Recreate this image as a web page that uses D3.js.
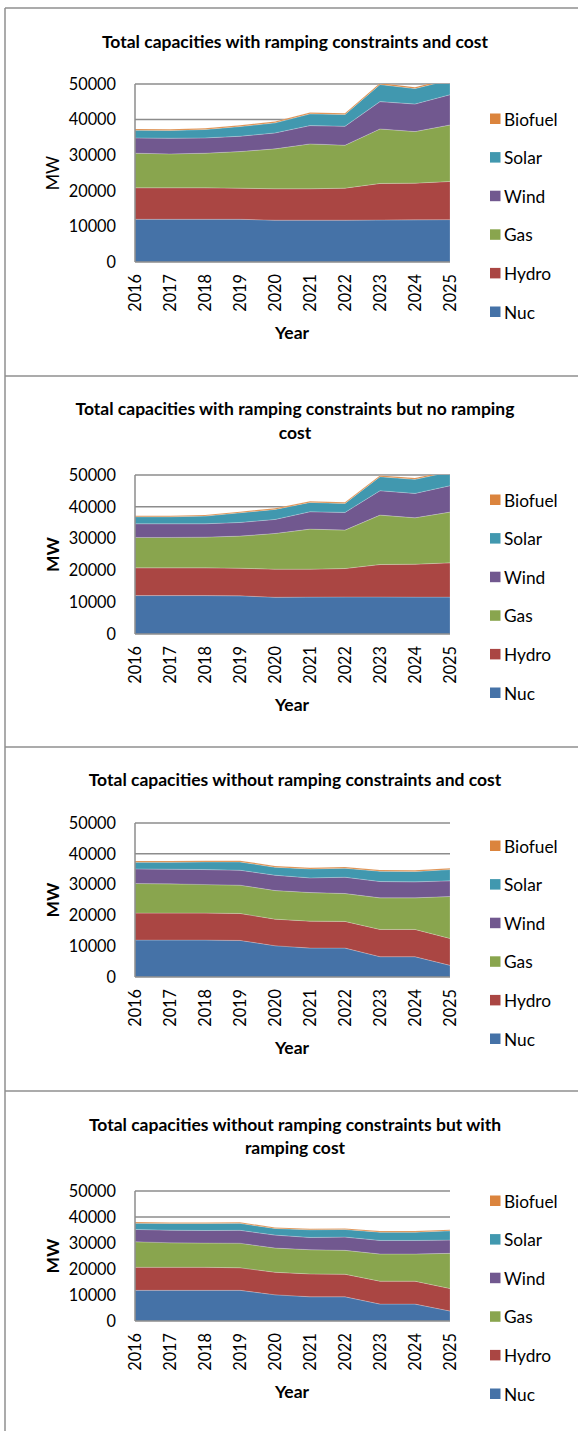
<!DOCTYPE html>
<html>
<head>
<meta charset="utf-8">
<script src="https://cdn.jsdelivr.net/npm/d3@7/dist/d3.min.js"></script>
<style>
body { margin: 0; background: #fff; }
text { font-family: Lato, "Noto Sans", sans-serif; fill: #000; }
</style>
</head>
<body>
<svg id="chart" width="578" height="1431"></svg>
<script>
var years = [2016, 2017, 2018, 2019, 2020, 2021, 2022, 2023, 2024, 2025];
var seriesNames = ["Nuc", "Hydro", "Gas", "Wind", "Solar", "Biofuel"];
var yTicks = [0, 10000, 20000, 30000, 40000, 50000];

var titles = [
    ["Total capacities with ramping constraints and cost"],
    ["Total capacities with ramping constraints but no ramping", "cost"],
    ["Total capacities without ramping constraints and cost"],
    ["Total capacities without ramping constraints but with", "ramping cost"]
];

// panel 1 - with ramping constraints and cost
var p1Nuc     = [12000, 12000, 12000, 12000, 11750, 11750, 11750, 11800, 11850, 11900];
var p1Hydro   = [8840, 8840, 8840, 8750, 8810, 8810, 9000, 10260, 10300, 10720];
var p1Gas     = [9720, 9530, 9720, 10280, 11220, 12620, 12050, 15320, 14490, 15880];
var p1Wind    = [4300, 4400, 4300, 4300, 4480, 5140, 5330, 7670, 7740, 8500];
var p1Solar   = [2170, 2170, 2360, 2730, 2830, 3290, 3300, 4800, 4340, 4150];
var p1Biofuel = [350, 350, 350, 350, 350, 350, 350, 400, 400, 400];

// panel 2 - ramping constraints, no ramping cost
var p2Nuc     = [12080, 12080, 12080, 12000, 11550, 11600, 11650, 11650, 11600, 11600];
var p2Hydro   = [8720, 8720, 8720, 8700, 8830, 8780, 8940, 10200, 10350, 10770];
var p2Gas     = [9560, 9560, 9660, 10080, 11240, 12600, 12080, 15540, 14600, 15970];
var p2Wind    = [4300, 4300, 4200, 4300, 4410, 5470, 5570, 7670, 7670, 8300];
var p2Solar   = [2210, 2210, 2420, 3050, 3150, 2940, 2830, 4410, 4410, 4360];
var p2Biofuel = [350, 350, 350, 350, 350, 350, 350, 400, 400, 400];

// panel 3 - no ramping constraints, no cost
var p3Nuc     = [11990, 11990, 11990, 11880, 10150, 9400, 9400, 6590, 6590, 3780];
var p3Hydro   = [8750, 8750, 8750, 8750, 8640, 8740, 8640, 8850, 8850, 8750];
var p3Gas     = [9610, 9500, 9280, 9180, 9290, 9290, 9070, 10260, 10260, 13610];
var p3Wind    = [4750, 4760, 4860, 4860, 4970, 4750, 5290, 5300, 5190, 5070];
var p3Solar   = [2160, 2260, 2490, 2700, 2590, 2920, 2920, 3340, 3350, 3670];
var p3Biofuel = [400, 400, 400, 400, 400, 400, 400, 400, 400, 400];

// panel 4 - no ramping constraints, with ramping cost
var p4Nuc     = [11800, 11800, 11800, 11800, 10080, 9310, 9310, 6510, 6510, 3830];
var p4Hydro   = [8860, 8860, 8860, 8670, 8670, 8800, 8680, 8800, 8800, 8670];
var p4Gas     = [9820, 9440, 9310, 9440, 9310, 9310, 9180, 10460, 10460, 13520];
var p4Wind    = [4720, 4850, 4850, 4970, 4980, 4720, 5100, 5230, 5230, 5100];
var p4Solar   = [2430, 2550, 2680, 2680, 2550, 2940, 2930, 3180, 3180, 3570];
var p4Biofuel = [400, 400, 400, 400, 400, 400, 400, 400, 400, 400];

var panelData = [
    [p1Nuc, p1Hydro, p1Gas, p1Wind, p1Solar, p1Biofuel],
    [p2Nuc, p2Hydro, p2Gas, p2Wind, p2Solar, p2Biofuel],
    [p3Nuc, p3Hydro, p3Gas, p3Wind, p3Solar, p3Biofuel],
    [p4Nuc, p4Hydro, p4Gas, p4Wind, p4Solar, p4Biofuel]
];

var color = d3.scaleOrdinal()
    .domain(seriesNames)
    .range(["#4572a7", "#aa4643", "#89a54e", "#71588f", "#4198af", "#db843d"]);

// where each panel sits on the page
var layout = [
    {boxTop: 8,    titleY: [41],         plotTop: 84,   plotBottom: 262,  legendTop: 119,  mwBold: false},
    {boxTop: 376,  titleY: [408, 432],   plotTop: 475,  plotBottom: 634,  legendTop: 500,  mwBold: true},
    {boxTop: 747,  titleY: [779],        plotTop: 823,  plotBottom: 977,  legendTop: 846,  mwBold: true},
    {boxTop: 1091, titleY: [1124, 1147], plotTop: 1191, plotBottom: 1321, legendTop: 1201, mwBold: true}
];

var plotLeft = 135, plotRight = 450;
var gridColor = "#8c8c8c";
var fontStack = "Lato, 'Noto Sans', sans-serif";

var svg = d3.select("#chart");

// outer frames
svg.append("line")
    .attr("x1", 5).attr("x2", 5)
    .attr("y1", 8).attr("y2", 1431)
    .attr("stroke", "#8f8f8f").attr("stroke-width", 1.5);

layout.forEach(function(L) {
    svg.append("line")
        .attr("x1", 5).attr("x2", 578)
        .attr("y1", L.boxTop).attr("y2", L.boxTop)
        .attr("stroke", "#8f8f8f").attr("stroke-width", 1.5);
});

var stack = d3.stack().keys(seriesNames);

layout.forEach(function(L, i) {
    var g = svg.append("g");
    var vals = panelData[i];

    var rows = years.map(function(yr, j) {
        var r = {year: yr};
        seriesNames.forEach(function(s, k) { r[s] = vals[k][j]; });
        return r;
    });

    var x = d3.scalePoint().domain(years).range([plotLeft, plotRight]);
    var y = d3.scaleLinear().domain([0, 50000]).range([L.plotBottom, L.plotTop]);

    // title
    titles[i].forEach(function(t, k) {
        g.append("text")
            .attr("x", 295).attr("y", L.titleY[k])
            .attr("text-anchor", "middle")
            .attr("dominant-baseline", "central")
            .style("font-weight", "bold")
            .style("font-size", "17.5px")
            .text(t);
    });

    // gridlines
    g.selectAll(".grid")
        .data(yTicks.filter(function(d) { return d > 0; }))
        .enter().append("line")
        .attr("x1", plotLeft).attr("x2", plotRight)
        .attr("y1", function(d) { return y(d); })
        .attr("y2", function(d) { return y(d); })
        .attr("stroke", gridColor).attr("stroke-width", 1.5);

    // clip so the tall years get cut at 50000
    g.append("clipPath").attr("id", "clip" + i)
        .append("rect")
        .attr("x", plotLeft).attr("y", L.plotTop)
        .attr("width", plotRight - plotLeft)
        .attr("height", L.plotBottom - L.plotTop);

    var area = d3.area()
        .x(function(d) { return x(d.data.year); })
        .y0(function(d) { return y(d[0]); })
        .y1(function(d) { return y(d[1]); });

    g.append("g")
        .attr("clip-path", "url(#clip" + i + ")")
        .selectAll("path")
        .data(stack(rows))
        .enter().append("path")
        .attr("d", area)
        .attr("fill", function(d) { return color(d.key); })
        .attr("stroke", "#fff")
        .attr("stroke-opacity", 0.35)
        .attr("stroke-width", 0.6);

    // axis lines
    g.append("line")
        .attr("x1", plotLeft).attr("x2", plotLeft)
        .attr("y1", L.plotTop).attr("y2", L.plotBottom)
        .attr("stroke", gridColor).attr("stroke-width", 1.5);
    g.append("line")
        .attr("x1", plotLeft).attr("x2", plotRight)
        .attr("y1", L.plotBottom).attr("y2", L.plotBottom)
        .attr("stroke", gridColor).attr("stroke-width", 1.5);

    // y tick labels
    var yAxis = g.append("g")
        .attr("transform", "translate(" + plotLeft + ",0)")
        .call(d3.axisLeft(y).tickValues(yTicks).tickFormat(d3.format("d")).tickSize(0).tickPadding(19));
    yAxis.select(".domain").remove();
    yAxis.selectAll("text")
        .style("font-family", fontStack)
        .style("font-size", "16.3px")
        .attr("fill", "#000");

    // x tick labels, rotated
    var xAxis = g.append("g")
        .attr("transform", "translate(0," + L.plotBottom + ")")
        .call(d3.axisBottom(x).tickSize(0).tickPadding(0));
    xAxis.select(".domain").remove();
    xAxis.selectAll("text")
        .attr("transform", "rotate(-90)")
        .attr("x", -12).attr("y", 0).attr("dy", "0.35em")
        .attr("text-anchor", "end")
        .style("font-family", fontStack)
        .style("font-size", "16.3px")
        .attr("fill", "#000");

    // axis titles
    g.append("text")
        .attr("transform", "translate(52," + ((L.plotTop + L.plotBottom) / 2) + ") rotate(-90)")
        .attr("text-anchor", "middle")
        .attr("dominant-baseline", "central")
        .style("font-weight", L.mwBold ? "bold" : "normal")
        .style("font-size", "17.5px")
        .text("MW");

    g.append("text")
        .attr("x", 292).attr("y", L.plotBottom + 70)
        .attr("text-anchor", "middle")
        .attr("dominant-baseline", "central")
        .style("font-weight", "bold")
        .style("font-size", "17.5px")
        .text("Year");

    // legend, top to bottom reversed
    var legendOrder = seriesNames.slice().reverse();
    var leg = g.selectAll(".leg")
        .data(legendOrder)
        .enter().append("g")
        .attr("transform", function(d, k) { return "translate(490," + (L.legendTop + k * 38.6) + ")"; });
    leg.append("rect")
        .attr("x", 0).attr("y", -5.5)
        .attr("width", 10.5).attr("height", 10.5)
        .attr("fill", function(d) { return color(d); });
    leg.append("text")
        .attr("x", 14).attr("y", 0)
        .attr("dominant-baseline", "central")
        .style("font-size", "17.3px")
        .text(function(d) { return d; });
});
</script>
</body>
</html>
